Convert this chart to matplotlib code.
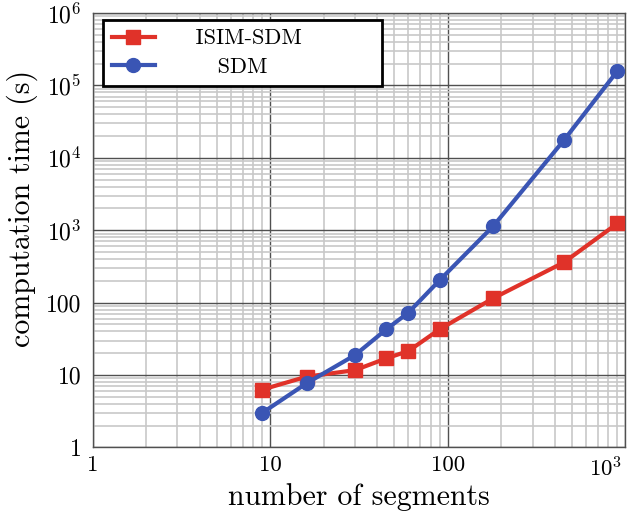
import numpy as np
import matplotlib
matplotlib.use("Agg")
import matplotlib.pyplot as plt
import matplotlib.transforms as mtrans
from matplotlib.ticker import LogLocator, FixedLocator, FixedFormatter, NullFormatter

# Data
segments = [9, 16, 30, 45, 60, 90, 180, 450, 900]
isim_sdm = [6.3, 9.5, 11.7, 17.0, 21.5, 43.0, 115, 360, 1240]
sdm = [3.0, 7.7, 18.9, 42.8, 73, 205, 1140, 17500, 158000]
labels = ["ISIM-SDM", "SDM"]
xticks = [1, 10, 100, 1000]
xticklabels = ["1", "10", "100", r"$10^3$"]
yticks = [1, 10, 100, 1e3, 1e4, 1e5, 1e6]
yticklabels = ["1", "10", "100", r"$10^3$", r"$10^4$", r"$10^5$", r"$10^6$"]

plt.rcParams['font.family'] = ['cmr10', 'DejaVu Serif']
plt.rcParams['mathtext.fontset'] = 'cm'
plt.rcParams['axes.unicode_minus'] = False

fig = plt.figure(figsize=(6.28, 5.12), dpi=100)
ax = fig.add_axes([0.1476, 0.126, 0.8484, 0.8486])

red = '#e03229'
blue = '#3a55b4'
ax.plot(segments, isim_sdm, color=red, lw=3.0, marker='s', ms=9.5, label=labels[0], zorder=4)
ax.plot(segments, sdm, color=blue, lw=3.0, marker='o', ms=10, label=labels[1], zorder=5)

ax.set_xscale('log')
ax.set_yscale('log')
ax.set_xlim(1, 1000)
ax.set_ylim(1, 1e6)

ax.xaxis.set_major_locator(FixedLocator(xticks))
ax.xaxis.set_major_formatter(FixedFormatter(xticklabels))
ax.yaxis.set_major_locator(FixedLocator(yticks))
ax.yaxis.set_major_formatter(FixedFormatter(yticklabels))
ax.xaxis.set_minor_locator(LogLocator(base=10, subs=np.arange(2, 10), numticks=50))
ax.yaxis.set_minor_locator(LogLocator(base=10, subs=np.arange(2, 10), numticks=50))
ax.xaxis.set_minor_formatter(NullFormatter())
ax.yaxis.set_minor_formatter(NullFormatter())

ax.grid(True, which='minor', color='#c8c8c8', lw=1.2, zorder=0)
ax.grid(True, which='major', color='#505050', lw=1.0, zorder=1)
ax.set_axisbelow(True)
ax.tick_params(which='both', length=0)
ax.tick_params(axis='x', labelsize=16.5, pad=6)
ax.tick_params(axis='y', labelsize=17, pad=8)
for s in ax.spines.values():
    s.set_color('#505050')
    s.set_linewidth(1.0)

ax.set_xlabel('number of segments', fontsize=21.5)
ax.set_ylabel('computation time (s)', fontsize=21.5)
ax.xaxis.set_label_coords(0.5, -0.132)
ax.xaxis.label.set_va('baseline')
ax.yaxis.set_label_coords(-0.103, 0.551)

fig.canvas.draw()
xl = ax.get_xticklabels()
xl[-1].set_ha('right')
off = mtrans.ScaledTranslation(-3 / 100, 0, fig.dpi_scale_trans)
xl[-1].set_transform(xl[-1].get_transform() + off)

leg = ax.legend(['    ' + labels[0], '       ' + labels[1]],
                loc='upper left', bbox_to_anchor=(0.019, 0.845, 0.524, 0.139),
                mode='expand', fontsize=16,
                handlelength=1.94, handletextpad=0.5, borderpad=0.4,
                labelspacing=0.4, fancybox=False, framealpha=1,
                edgecolor='black', borderaxespad=0)
leg.get_frame().set_linewidth(2.0)
fig.savefig('out.png', dpi=100)
